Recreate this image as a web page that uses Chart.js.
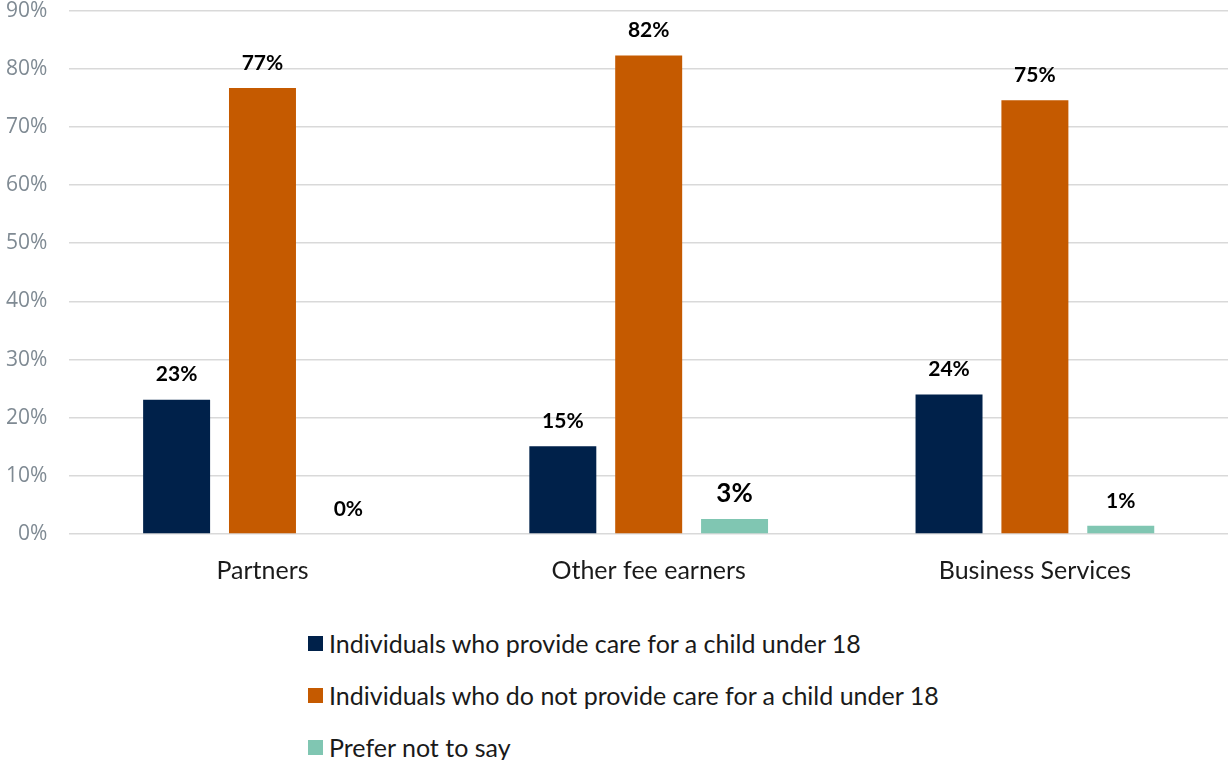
<!DOCTYPE html>
<html>
<head>
<meta charset="utf-8">
<script src="https://cdn.jsdelivr.net/npm/chart.js@4"></script>
<style>
  html, body { margin: 0; padding: 0; background: #fff; overflow: hidden; }
  #wrap { position: relative; width: 1230px; height: 760px; overflow: hidden; }
  #c { position: absolute; left: -16px; top: -24px; }
  #legend { position: absolute; left: 308px; top: 630px; font-family: Lato, "Open Sans", sans-serif; font-size: 25px; color: #1a1a1a; }
  .item { display: flex; align-items: center; height: 26px; margin-bottom: 26px; }
  .box { width: 15px; height: 15px; margin-right: 6px; }
</style>
</head>
<body>
<div id="wrap">
  <canvas id="c" width="1246" height="632"></canvas>
  <div id="legend"></div>
</div>
<script>
const categories = ["Partners", "Other fee earners", "Business Services"];
const seriesNames = [
  "Individuals who provide care for a child under 18",
  "Individuals who do not provide care for a child under 18",
  "Prefer not to say"
];
const careValues = [23.1, 15.1, 24.0];
const noCareValues = [76.7, 82.3, 74.6];
const preferNotValues = [0, 2.6, 1.4];
const yTicks = [0, 10, 20, 30, 40, 50, 60, 70, 80, 90];

const colors = ["#00214a", "#c55a00", "#80c6b2"];
const seriesValues = [careValues, noCareValues, preferNotValues];

const labelPlugin = {
  id: "barLabels",
  afterDatasetsDraw(chart) {
    const ctx = chart.ctx;
    ctx.save();
    ctx.fillStyle = "#000";
    ctx.textAlign = "center";
    ctx.textBaseline = "middle";
    chart.data.datasets.forEach((ds, di) => {
      const meta = chart.getDatasetMeta(di);
      meta.data.forEach((bar, i) => {
        const v = ds.data[i];
        const big = (di === 2 && i === 1);
        ctx.font = "bold " + (big ? 26 : 21) + "px Lato, 'Open Sans', sans-serif";
        ctx.fillText(Math.round(v) + "%", bar.x, bar.y - (big ? 25 : 25));
      });
    });
    ctx.restore();
  }
};

new Chart(document.getElementById("c"), {
  type: "bar",
  data: {
    labels: categories,
    datasets: seriesNames.map((n, k) => ({
      label: n,
      data: seriesValues[k],
      backgroundColor: colors[k],
      barPercentage: 0.78,
      categoryPercentage: 0.667
    }))
  },
  options: {
    responsive: false,
    animation: false,
    layout: { padding: { top: 0, right: 2, left: 0, bottom: 0 } },
    plugins: { legend: { display: false }, tooltip: { enabled: false } },
    scales: {
      x: {
        grid: { display: false, drawTicks: false },
        border: { display: false },
        ticks: { color: "#1a1a1a", font: { family: "Lato, 'Open Sans', sans-serif", size: 25 }, padding: 22 }
      },
      y: {
        min: 0,
        max: 90,
        afterBuildTicks(axis) { axis.ticks = yTicks.map(v => ({ value: v })); },
        grid: { color: "#d9d9d9", lineWidth: 1.5, drawTicks: false },
        border: { display: false },
        ticks: {
          color: "#7f8a93",
          font: { family: "'Open Sans', sans-serif", size: 21 },
          padding: 22,
          callback: v => v + "%"
        }
      }
    }
  },
  plugins: [labelPlugin]
});

const legend = document.getElementById("legend");
seriesNames.forEach((n, k) => {
  const it = document.createElement("div");
  it.className = "item";
  const b = document.createElement("span");
  b.className = "box";
  b.style.background = colors[k];
  const t = document.createElement("span");
  t.textContent = n;
  it.appendChild(b);
  it.appendChild(t);
  legend.appendChild(it);
});
</script>
</body>
</html>
